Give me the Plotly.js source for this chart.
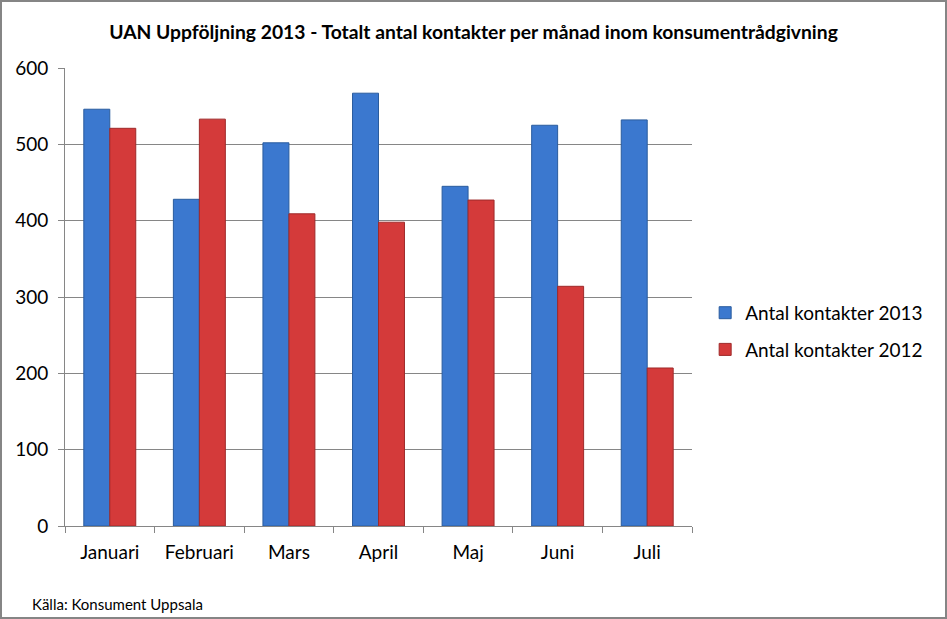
<!DOCTYPE html>
<html>
<head>
<meta charset="utf-8">
<script src="https://cdn.plot.ly/plotly-3.0.1.min.js"></script>
<style>
html,body{margin:0;padding:0;background:#fff;}
#wrap{width:947px;height:619px;box-sizing:border-box;border:2px solid #858585;overflow:hidden;}
#chart{width:943px;height:615px;}
</style>
</head>
<body>
<div id="wrap"><div id="chart"></div></div>
<script>
const months = ["Januari","Februari","Mars","April","Maj","Juni","Juli"];
const kontakter2013 = [546, 428, 502, 567, 445, 525, 532];
const kontakter2012 = [521, 533, 409, 398, 427, 314, 207];
const yTicks = [0, 100, 200, 300, 400, 500, 600];

const font = "Lato, 'Open Sans', 'Liberation Sans', sans-serif";

const data = [
  {type:"bar", name:"Antal kontakter 2013", x:months, y:kontakter2013, legendgroup:"a",
   marker:{color:"#3B78CF", line:{color:"#2A5C9E", width:1}}},
  {type:"bar", name:"Antal kontakter 2012", x:months, y:kontakter2012, legendgroup:"b",
   marker:{color:"#D43A3A", line:{color:"#9E2A2A", width:1}}}
];

const layout = {
  width:943, height:615,
  margin:{l:63, r:253, t:66, b:91},
  paper_bgcolor:"#fff", plot_bgcolor:"#fff",
  font:{family:font, color:"#000"},
  title:{text:"<b>UAN Uppföljning 2013 - Totalt antal kontakter per månad inom konsumentrådgivning</b>",
         font:{size:19.3, family:font, color:"#000"}, x:0.5, xanchor:"center", xref:"container",
         y:1 - 30/615, yref:"container", yanchor:"middle"},
  barmode:"group", bargap:0.42, bargroupgap:0,
  xaxis:{type:"category", showline:true, linecolor:"#868686", linewidth:1,
         ticks:"outside", tickson:"boundaries", ticklen:6, tickcolor:"#868686",
         tickfont:{size:19, family:font}, showgrid:false, zeroline:false, ticklabelstandoff:9},
  yaxis:{range:[0,600], tickvals:yTicks, showline:true, linecolor:"#868686", linewidth:1,
         ticks:"outside", ticklen:6, tickcolor:"#868686", showgrid:true, gridcolor:"#868686", gridwidth:1,
         tickfont:{size:19, family:font}, zeroline:false, ticklabelstandoff:6},
  legend:{x:1.021, xanchor:"left", y:0.425, yanchor:"middle", font:{size:19, family:font},
          tracegroupgap:9, itemwidth:30, bgcolor:"rgba(0,0,0,0)"},
  annotations:[{text:"Källa: Konsument Uppsala", xref:"paper", yref:"paper", x:-0.056, y:-0.17,
                xanchor:"left", yanchor:"middle", showarrow:false, font:{size:15, family:font}}]
};

Plotly.newPlot("chart", data, layout, {displayModeBar:false, staticPlot:true});
</script>
</body>
</html>
